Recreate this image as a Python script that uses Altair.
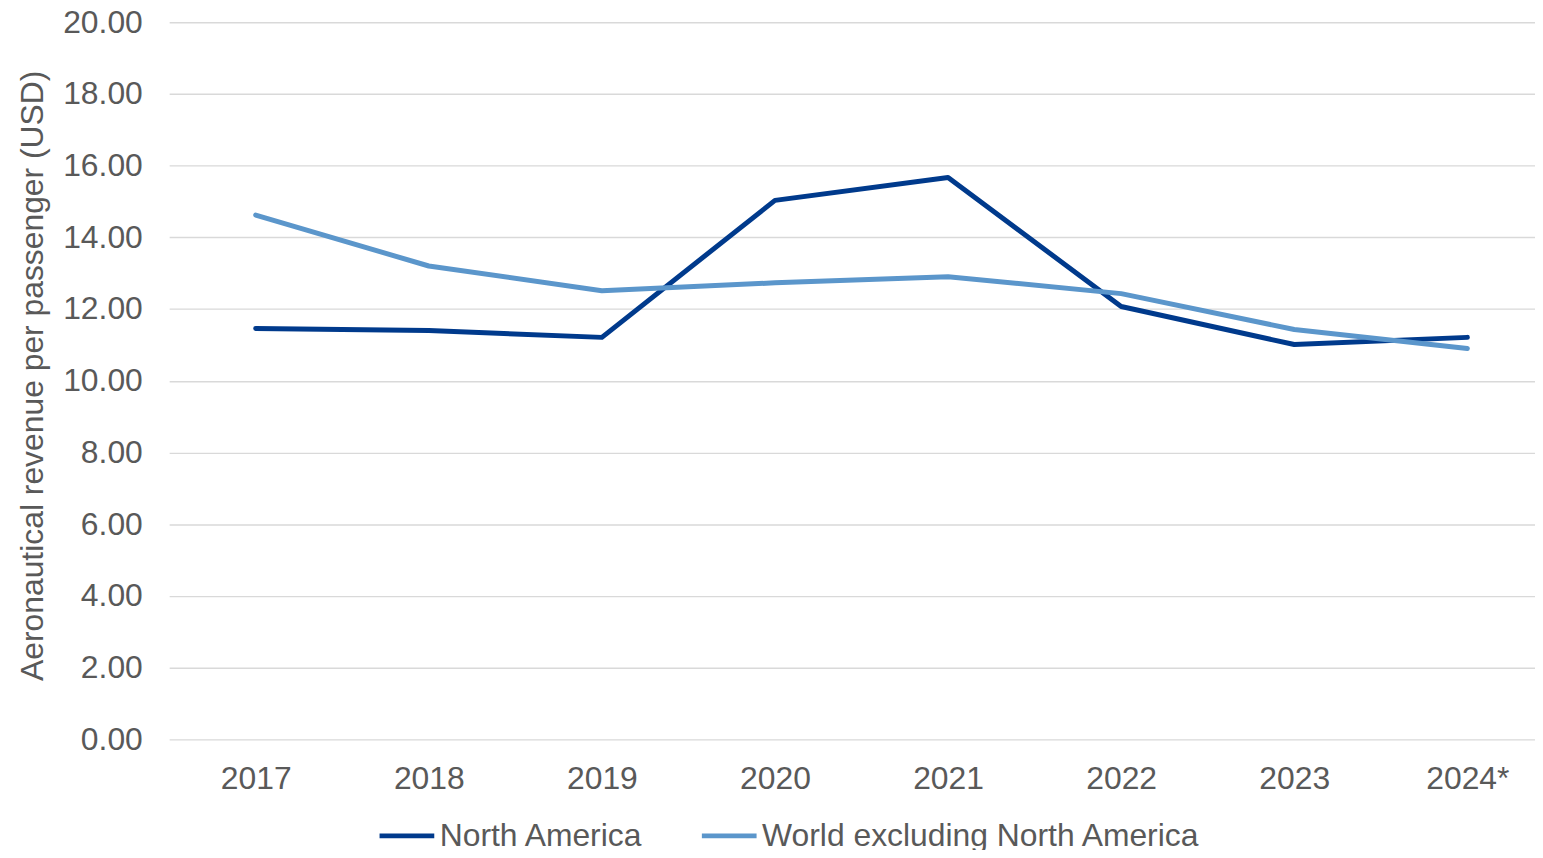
import altair as alt
import pandas as pd

years = ["2017", "2018", "2019", "2020", "2021", "2022", "2023", "2024*"]
north_america = [11.46, 11.40, 11.21, 15.03, 15.67, 12.07, 11.01, 11.21]
world_ex_na = [14.62, 13.20, 12.51, 12.73, 12.90, 12.43, 11.43, 10.90]
series_names = ["North America", "World excluding North America"]
series_colors = ["#003A8C", "#5B96CB"]

rows = []
for y, a, b in zip(years, north_america, world_ex_na):
    rows.append({"year": y, "series": series_names[0], "value": a})
    rows.append({"year": y, "series": series_names[1], "value": b})
df = pd.DataFrame(rows)

FONT = "Liberation Sans"
GREY = "#595959"
FS = 32

chart = alt.Chart(df).mark_line(strokeWidth=5, strokeCap="round", strokeJoin="round").encode(
    x=alt.X("year:O", sort=years,
            scale=alt.Scale(type="point", padding=0.5, range=[-2, 1390]),
            axis=alt.Axis(title=None, labelAngle=0, ticks=False, domain=False,
                          labelPadding=24, labelFontSize=FS, labelColor=GREY,
                          labelFont=FONT, grid=False)),
    y=alt.Y("value:Q",
            scale=alt.Scale(domain=[0, 20], nice=False, zero=True),
            axis=alt.Axis(title="Aeronautical revenue per passenger (USD)",
                          values=[0, 2, 4, 6, 8, 10, 12, 14, 16, 18, 20],
                          format=".2f", ticks=False, domain=False,
                          labelPadding=29, labelFontSize=FS, labelColor=GREY,
                          labelFont=FONT, titleFont=FONT, titleFontSize=FS,
                          titleColor=GREY, titleFontWeight="normal",
                          titleX=-122, titleY=355,
                          gridColor="#D9D9D9", gridWidth=1.5)),
    color=alt.Color("series:N", sort=series_names,
                    scale=alt.Scale(domain=series_names, range=series_colors),
                    legend=alt.Legend(title=None, orient="none", direction="horizontal",
                                      legendX=207, legendY=788,
                                      symbolType="stroke", symbolSize=3025,
                                      symbolStrokeWidth=5, labelFontSize=FS,
                                      labelFont=FONT, labelColor=GREY,
                                      labelOffset=3, columnPadding=48,
                                      labelLimit=0)),
).properties(
    width=1371, height=721,
    autosize=alt.AutoSizeParams(type="none"),
    padding={"left": 164, "top": 12, "right": 0, "bottom": 109},
).configure(background="white").configure_view(stroke=None)

chart.save("out.html", embed_options={"renderer": "svg", "actions": False})
